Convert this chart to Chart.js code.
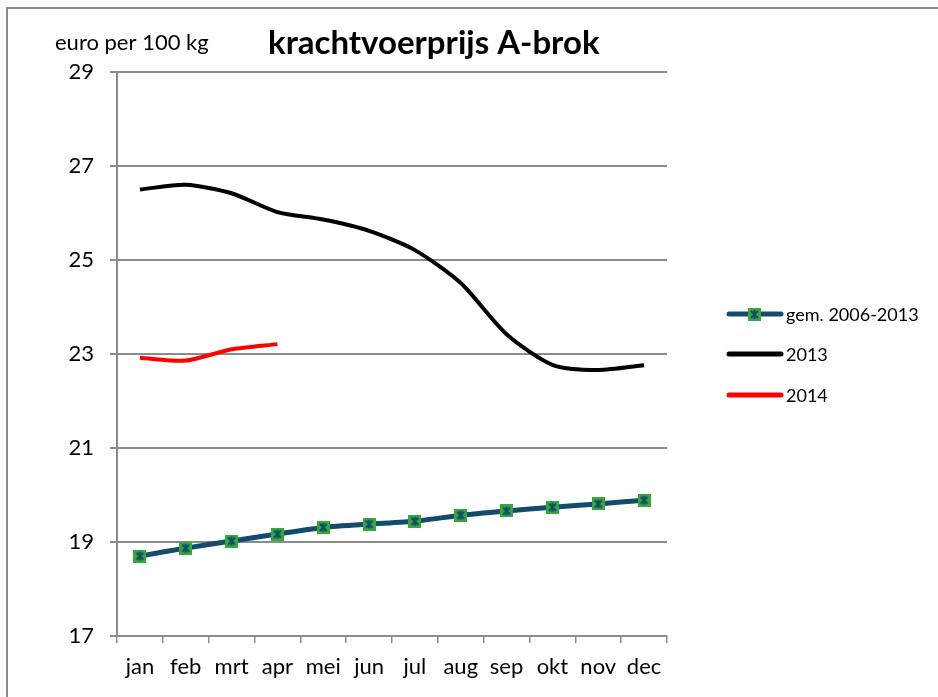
<!DOCTYPE html>
<html>
<head>
<meta charset="utf-8">
<script src="https://cdn.jsdelivr.net/npm/chart.js@4"></script>
<style>
  html, body { margin: 0; padding: 0; background: #fff; }
  canvas { display: block; }
</style>
</head>
<body>
<canvas id="voerChart" width="938" height="697"></canvas>
<script>
// maanden en prijzen (euro per 100 kg)
var maanden = ['jan', 'feb', 'mrt', 'apr', 'mei', 'jun', 'jul', 'aug', 'sep', 'okt', 'nov', 'dec'];
var gem0613 = [18.70, 18.87, 19.02, 19.17, 19.31, 19.38, 19.44, 19.57, 19.66, 19.74, 19.81, 19.89];
var prijs2013 = [26.50, 26.60, 26.42, 26.02, 25.86, 25.62, 25.21, 24.51, 23.42, 22.77, 22.66, 22.76];
var prijs2014 = [22.92, 22.86, 23.10, 23.21];
var reeksNamen = ['gem. 2006-2013', '2013', '2014'];

var FONT = 'Lato, "Open Sans", sans-serif';
var NAVY = '#124b6c';
var GROEN = '#36a83a';

// marker: groen vierkantje met sterretje
function maakMarker() {
    var c = document.createElement('canvas');
    c.width = 13; c.height = 13;
    var g = c.getContext('2d');
    g.fillStyle = GROEN;
    g.fillRect(0, 0, 13, 13);
    g.strokeStyle = NAVY;
    g.lineWidth = 2;
    g.beginPath();
    g.moveTo(3, 3); g.lineTo(10, 10);
    g.moveTo(10, 3); g.lineTo(3, 10);
    g.moveTo(6.5, 2); g.lineTo(6.5, 11);
    g.stroke();
    return c;
}
var marker = maakMarker();

// titel, eenheid, rand en legenda zelf tekenen
var extraPlugin = {
    id: 'extra',
    afterDraw: function(chart) {
        var ctx = chart.ctx;
        ctx.save();
        // rand
        ctx.strokeStyle = '#8c8c8c';
        ctx.lineWidth = 2;
        ctx.beginPath();
        ctx.moveTo(7, 697);
        ctx.lineTo(7, 8);
        ctx.lineTo(938, 8);
        ctx.stroke();

        ctx.fillStyle = '#000';
        ctx.textBaseline = 'middle';
        ctx.textAlign = 'left';
        ctx.font = 'bold 33px ' + FONT;
        ctx.fillText('krachtvoerprijs A-brok', 268, 43, 344);
        ctx.font = '22px ' + FONT;
        ctx.fillText('euro per 100 kg', 55, 43, 171);

        // legenda
        var ys = [314, 354, 395];
        var kleuren = [NAVY, '#000', '#ff0000'];
        ctx.font = '18px ' + FONT;
        for (var i = 0; i < 3; i++) {
            ctx.strokeStyle = kleuren[i];
            ctx.lineWidth = 5;
            ctx.lineCap = 'round';
            ctx.beginPath();
            ctx.moveTo(729, ys[i]);
            ctx.lineTo(781, ys[i]);
            ctx.stroke();
            if (i === 0) ctx.drawImage(marker, 748, ys[i] - 6);
            ctx.fillText(reeksNamen[i], 786, ys[i] + 1, i === 0 ? 135 : 100);
        }
        ctx.restore();
    }
};

var ctx = document.getElementById('voerChart').getContext('2d');
var voerChart = new Chart(ctx, {
    type: 'line',
    data: {
        labels: maanden,
        datasets: [{
            label: reeksNamen[0],
            data: gem0613,
            borderColor: NAVY,
            borderWidth: 5,
            pointStyle: marker,
            pointRadius: 6,
            tension: 0.2
        }, {
            label: reeksNamen[1],
            data: prijs2013,
            borderColor: '#000',
            borderWidth: 4,
            pointRadius: 0,
            tension: 0.25
        }, {
            label: reeksNamen[2],
            data: prijs2014,
            borderColor: '#ff0000',
            borderWidth: 4,
            pointRadius: 0,
            tension: 0.25
        }]
    },
    options: {
        responsive: false,
        animation: false,
        layout: { padding: { top: 72, right: 271, left: 0, bottom: 0 } },
        plugins: {
            legend: { display: false },
            title: { display: false },
            tooltip: { enabled: false }
        },
        scales: {
            x: {
                offset: true,
                grid: { offset: true, drawOnChartArea: false, drawTicks: true, tickLength: 7, color: '#8c8c8c', lineWidth: 1.5 },
                border: { color: '#8c8c8c', width: 2 },
                ticks: { color: '#000', font: { family: FONT, size: 22 }, padding: 11, maxRotation: 0, autoSkip: false },
                afterFit: function(s) { s.height = 61; }
            },
            y: {
                min: 17,
                max: 29,
                grid: { color: '#8c8c8c', lineWidth: 2, tickLength: 7 },
                border: { color: '#8c8c8c', width: 2 },
                ticks: { stepSize: 2, color: '#000', font: { family: FONT, size: 22 }, padding: 16 },
                afterFit: function(s) { s.width = 117; }
            }
        }
    },
    plugins: [extraPlugin]
});
</script>
</body>
</html>
